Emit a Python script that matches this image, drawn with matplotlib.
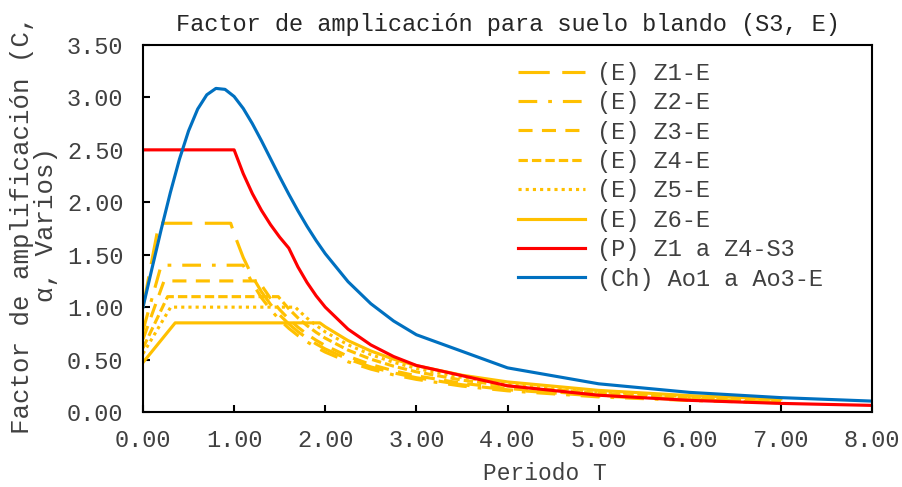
import matplotlib
matplotlib.use('Agg')
import matplotlib.pyplot as plt

# Period grid shared by the descending branches
T_TAIL = [1.0, 1.1, 1.2, 1.3, 1.4, 1.5, 1.6, 1.7, 1.8, 1.9, 2.0,
          2.25, 2.5, 2.75, 3.0, 3.5, 4.0, 5.0, 6.0, 7.0]

# (E) NEC spectra, soil E: start, corner T0, corner Tc, then the tail
Z1_T = [0.0, 0.175, 0.9625] + T_TAIL
Z1_Y = [1.000, 1.80, 1.80,
        1.700, 1.473, 1.293, 1.147, 1.026, 0.925, 0.840, 0.767, 0.704, 0.649, 0.601,
        0.504, 0.430, 0.373, 0.327, 0.260, 0.212, 0.152, 0.116, 0.092]

Z2_T = [0.0, 0.2, 1.1] + T_TAIL[2:]
Z2_Y = [0.778, 1.40, 1.40,
        1.229, 1.090, 0.975, 0.879, 0.798, 0.729, 0.669, 0.617, 0.571,
        0.479, 0.409, 0.354, 0.311, 0.247, 0.202, 0.144, 0.110, 0.087]

Z3_T = [0.0, 0.231, 1.272] + T_TAIL[3:]
Z3_Y = [0.694, 1.25, 1.25,
        1.209, 1.082, 0.976, 0.886, 0.809, 0.742, 0.684, 0.634,
        0.531, 0.453, 0.393, 0.345, 0.274, 0.224, 0.160, 0.122, 0.097]

Z4_T = [0.0, 0.27, 1.485] + T_TAIL[5:]
Z4_Y = [0.611, 1.10, 1.10,
        1.084, 0.984, 0.898, 0.824, 0.760, 0.704,
        0.590, 0.504, 0.437, 0.383, 0.304, 0.249, 0.178, 0.135, 0.107]

Z5_T = [0.0, 0.304, 1.672] + T_TAIL[7:]
Z5_Y = [0.556, 1.00, 1.00,
        0.975, 0.895, 0.826, 0.764,
        0.641, 0.547, 0.474, 0.416, 0.330, 0.270, 0.193, 0.147, 0.117]

Z6_T = [0.0, 0.353, 1.941] + T_TAIL[10:]
Z6_Y = [0.472, 0.85, 0.85,
        0.813, 0.681, 0.582, 0.504, 0.442, 0.351, 0.287, 0.206, 0.156, 0.124]

# (P) E.030 factor C, soil S3
P_T = [0.0, 1.0, 1.1, 1.2, 1.3, 1.4, 1.5, 1.6, 1.7, 1.8, 1.9, 2.0,
       2.25, 2.5, 2.75, 3.0, 4.0, 5.0, 6.0, 7.0, 8.0]
P_Y = [2.50, 2.50, 2.273, 2.083, 1.923, 1.786, 1.667, 1.563, 1.384, 1.235, 1.108, 1.000,
       0.790, 0.640, 0.529, 0.444, 0.250, 0.160, 0.111, 0.082, 0.063]

# (Ch) NCh433 factor alpha, soil E
CH_T = [0.0, 0.1, 0.2, 0.3, 0.4, 0.5, 0.6, 0.7, 0.8, 0.9, 1.0,
        1.1, 1.2, 1.3, 1.4, 1.5, 1.6, 1.7, 1.8, 1.9, 2.0,
        2.25, 2.5, 2.75, 3.0, 4.0, 5.0, 6.0, 7.0, 8.0]
CH_Y = [1.000, 1.374, 1.742, 2.092, 2.411, 2.681, 2.889, 3.025, 3.086, 3.077, 3.009,
        2.895, 2.750, 2.587, 2.415, 2.243, 2.077, 1.919, 1.771, 1.635, 1.510,
        1.243, 1.033, 0.868, 0.737, 0.421, 0.269, 0.187, 0.137, 0.104]

LABELS = ['(E) Z1-E', '(E) Z2-E', '(E) Z3-E', '(E) Z4-E', '(E) Z5-E', '(E) Z6-E',
          '(P) Z1 a Z4-S3', '(Ch) Ao1 a Ao3-E']

YELLOW = '#FFC000'
TEXT = '#404040'
LW = 2.25

plt.rcParams['font.family'] = ['Liberation Mono', 'DejaVu Sans Mono']

fig = plt.figure(figsize=(9.02, 4.87), dpi=100)
ax = fig.add_axes([143 / 902, 1 - 412 / 487, 729 / 902, 367 / 487])

ax.plot(Z1_T, Z1_Y, color=YELLOW, lw=LW, ls=(0, (10, 4)), label=LABELS[0])
ax.plot(Z2_T, Z2_Y, color=YELLOW, lw=LW, ls=(0, (6, 3.5, 1.2, 3.5)), label=LABELS[1])
ax.plot(Z3_T, Z3_Y, color=YELLOW, lw=LW, ls=(0, (4.5, 3)), label=LABELS[2])
ax.plot(Z4_T, Z4_Y, color=YELLOW, lw=LW, ls=(0, (3, 1.3)), label=LABELS[3])
ax.plot(Z5_T, Z5_Y, color=YELLOW, lw=LW, ls=(0, (1, 1.3)), label=LABELS[4])
ax.plot(Z6_T, Z6_Y, color=YELLOW, lw=LW, label=LABELS[5])
ax.plot(P_T, P_Y, color='#FF0000', lw=LW, label=LABELS[6])
ax.plot(CH_T, CH_Y, color='#0070C0', lw=LW, label=LABELS[7])

ax.set_xlim(0, 8)
ax.set_ylim(0, 3.5)
ax.set_xticks([i for i in range(9)])
ax.set_yticks([i * 0.5 for i in range(8)])
ax.xaxis.set_major_formatter(lambda v, p: f'{v:.2f}')
ax.yaxis.set_major_formatter(lambda v, p: f'{v:.2f}')
ax.tick_params(direction='in', length=5, width=1.5, labelsize=17, labelcolor=TEXT)
ax.tick_params(axis='y', pad=14)
ax.tick_params(axis='x', pad=12)
for s in ax.spines.values():
    s.set_linewidth(1.5)
    s.set_color('black')

ax.set_title('Factor de amplicación para suelo blando (S3, E)',
             fontsize=17, color='#262626', pad=10)
fig.text(545 / 902, 1 - 473 / 487, 'Periodo T', fontsize=16.5,
         color=TEXT, ha='center', va='center')
fig.text(34 / 902, 1 - 225 / 487, 'Factor de amplificación (C,\nα, Varios)',
         fontsize=18.5, color=TEXT, rotation=90, ha='center', va='center',
         multialignment='center', linespacing=0.95)

ax.legend(loc='upper left', bbox_to_anchor=((518 - 143) / 729, (412 - 62) / 367),
          frameon=False, fontsize=17, handlelength=2.84, handletextpad=0.5,
          labelspacing=0.27, borderpad=0, borderaxespad=0, labelcolor=TEXT)

fig.savefig('out.png', dpi=100)
